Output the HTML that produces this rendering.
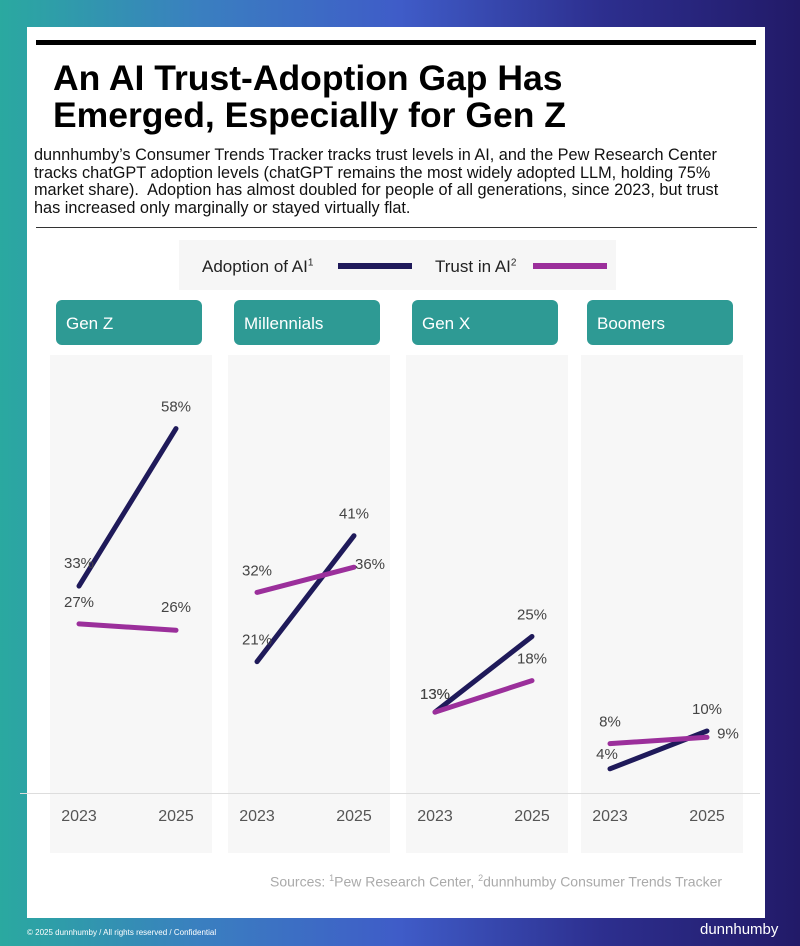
<!DOCTYPE html>
<html><head><meta charset="utf-8"><style>
body{margin:0;width:800px;height:946px;overflow:hidden;font-family:"Liberation Sans",sans-serif;
background:linear-gradient(90deg,#2aa9a0 0%,#3a7fc0 25%,#3f5cc8 50%,#2d2f8f 75%,#221a68 100%);position:relative}
#card{position:absolute;left:27px;top:27px;width:738px;height:891px;background:#fff}
.abs{position:absolute}
</style></head><body>
<div id="card"></div>
<div class="abs" style="left:36px;top:40px;width:720px;height:5px;background:#000"></div>
<div class="abs" style="left:53px;top:60px;font-weight:bold;font-size:35.5px;line-height:37px;color:#000;white-space:nowrap">An AI Trust-Adoption Gap Has<br>Emerged, Especially for Gen Z</div>
<div class="abs" style="left:34px;top:147px;font-size:16.3px;line-height:17.7px;color:#111;white-space:nowrap">dunnhumby’s Consumer Trends Tracker tracks trust levels in AI, and the Pew Research Center<br>tracks chatGPT adoption levels (chatGPT remains the most widely adopted LLM, holding 75%<br>market share).&nbsp; Adoption has almost doubled for people of all generations, since 2023, but trust<br>has increased only marginally or stayed virtually flat.</div>
<div class="abs" style="left:36px;top:227px;width:721px;height:1px;background:#333"></div>
<div class="abs" style="left:179px;top:240px;width:437px;height:50px;background:#f6f6f6"></div>
<div class="abs" style="left:202px;top:257px;font-size:17px;color:#222">Adoption of AI<sup style="font-size:10px">1</sup></div>
<div class="abs" style="left:338px;top:263px;width:74px;height:6px;background:#1f1a5a"></div>
<div class="abs" style="left:435px;top:257px;font-size:17px;color:#222">Trust in AI<sup style="font-size:10px">2</sup></div>
<div class="abs" style="left:533px;top:263px;width:74px;height:6px;background:#9b2f9b"></div>
<svg id="chart" class="abs" style="left:0;top:0" width="800" height="946"></svg>
<div class="abs" style="left:20px;top:793px;width:740px;height:1px;background:#ddd"></div>
<div class="abs" style="left:270px;top:873px;font-size:14px;color:#aaa;white-space:nowrap">Sources: <sup style="font-size:9px">1</sup>Pew Research Center, <sup style="font-size:9px">2</sup>dunnhumby Consumer Trends Tracker</div>
<div class="abs" style="left:27px;top:928px;font-size:8px;color:#fff">© 2025 dunnhumby / All rights reserved / Confidential</div>
<div class="abs" style="left:700px;top:921px;font-size:15px;color:#fff">dunnhumby</div>
<script>
const generations=["Gen Z","Millennials","Gen X","Boomers"];
const years=["2023","2025"];
const adoption=[[33,58],[21,41],[13,25],[4,10]];
const trust=[[27,26],[32,36],[13,18],[8,9]];
const panelLeft=[50,228,406,581];
const W=162;
const NS="http://www.w3.org/2000/svg";
const svg=document.getElementById('chart');
function y(v){return 794-6.3*v;}
function x(p,i){return panelLeft[p]+29+i*97;}
// label offsets [dx,dy] per panel: adoption 2023, adoption 2025, trust 2023, trust 2025
const lblOff=[[[0,-18],[0,-17],[0,-17],[0,-18]],[[0,-17],[0,-17],[0,-17],[16,2]],[[0,-13],[0,-17],[0,-13],[0,-17]],[[-3,-10],[0,-17],[0,-17],[21,1]]];
function mk(tag,attrs){const e=document.createElementNS(NS,tag);for(const k in attrs)e.setAttribute(k,attrs[k]);svg.appendChild(e);return e;}
generations.forEach((g,p)=>{
  const bg=mk('rect',{x:panelLeft[p],y:355,width:W,height:498,fill:'#f7f7f7'});
  
  
  const h=mk('rect',{x:panelLeft[p]+6,y:300,width:146,height:45,rx:6,fill:'#2e9a94'});
  
  
  const ht=mk('text',{x:panelLeft[p]+16,y:329,fill:'#fff','font-size':17,'font-family':'Liberation Sans'});
  ht.textContent=g;
  
  
  years.forEach((yr,i)=>{
    const t=mk('text',{x:x(p,i),y:821,fill:'#555','font-size':16,'text-anchor':'middle','font-family':'Liberation Sans'});
    t.textContent=yr;
    
    
  });
});
generations.forEach((g,p)=>{
  [[adoption,'#1f1a5a','adoption-line'],[trust,'#9b2f9b','trust-line']].forEach(([s,c,n])=>{
    const l=mk('line',{x1:x(p,0),y1:y(s[p][0]),x2:x(p,1),y2:y(s[p][1]),stroke:c,'stroke-width':5,'stroke-linecap':'round'});
    
    
  });
  [[adoption,0],[trust,2]].forEach(([s,k])=>{
    years.forEach((yr,i)=>{
      const o=lblOff[p][k+i];
      const t=mk('text',{x:x(p,i)+o[0],y:y(s[p][i])+o[1],fill:'#444','font-size':15,'text-anchor':'middle','font-family':'Liberation Sans'});
      t.textContent=s[p][i]+'%';
      
      
    });
  });
});
</script>
</body></html>
